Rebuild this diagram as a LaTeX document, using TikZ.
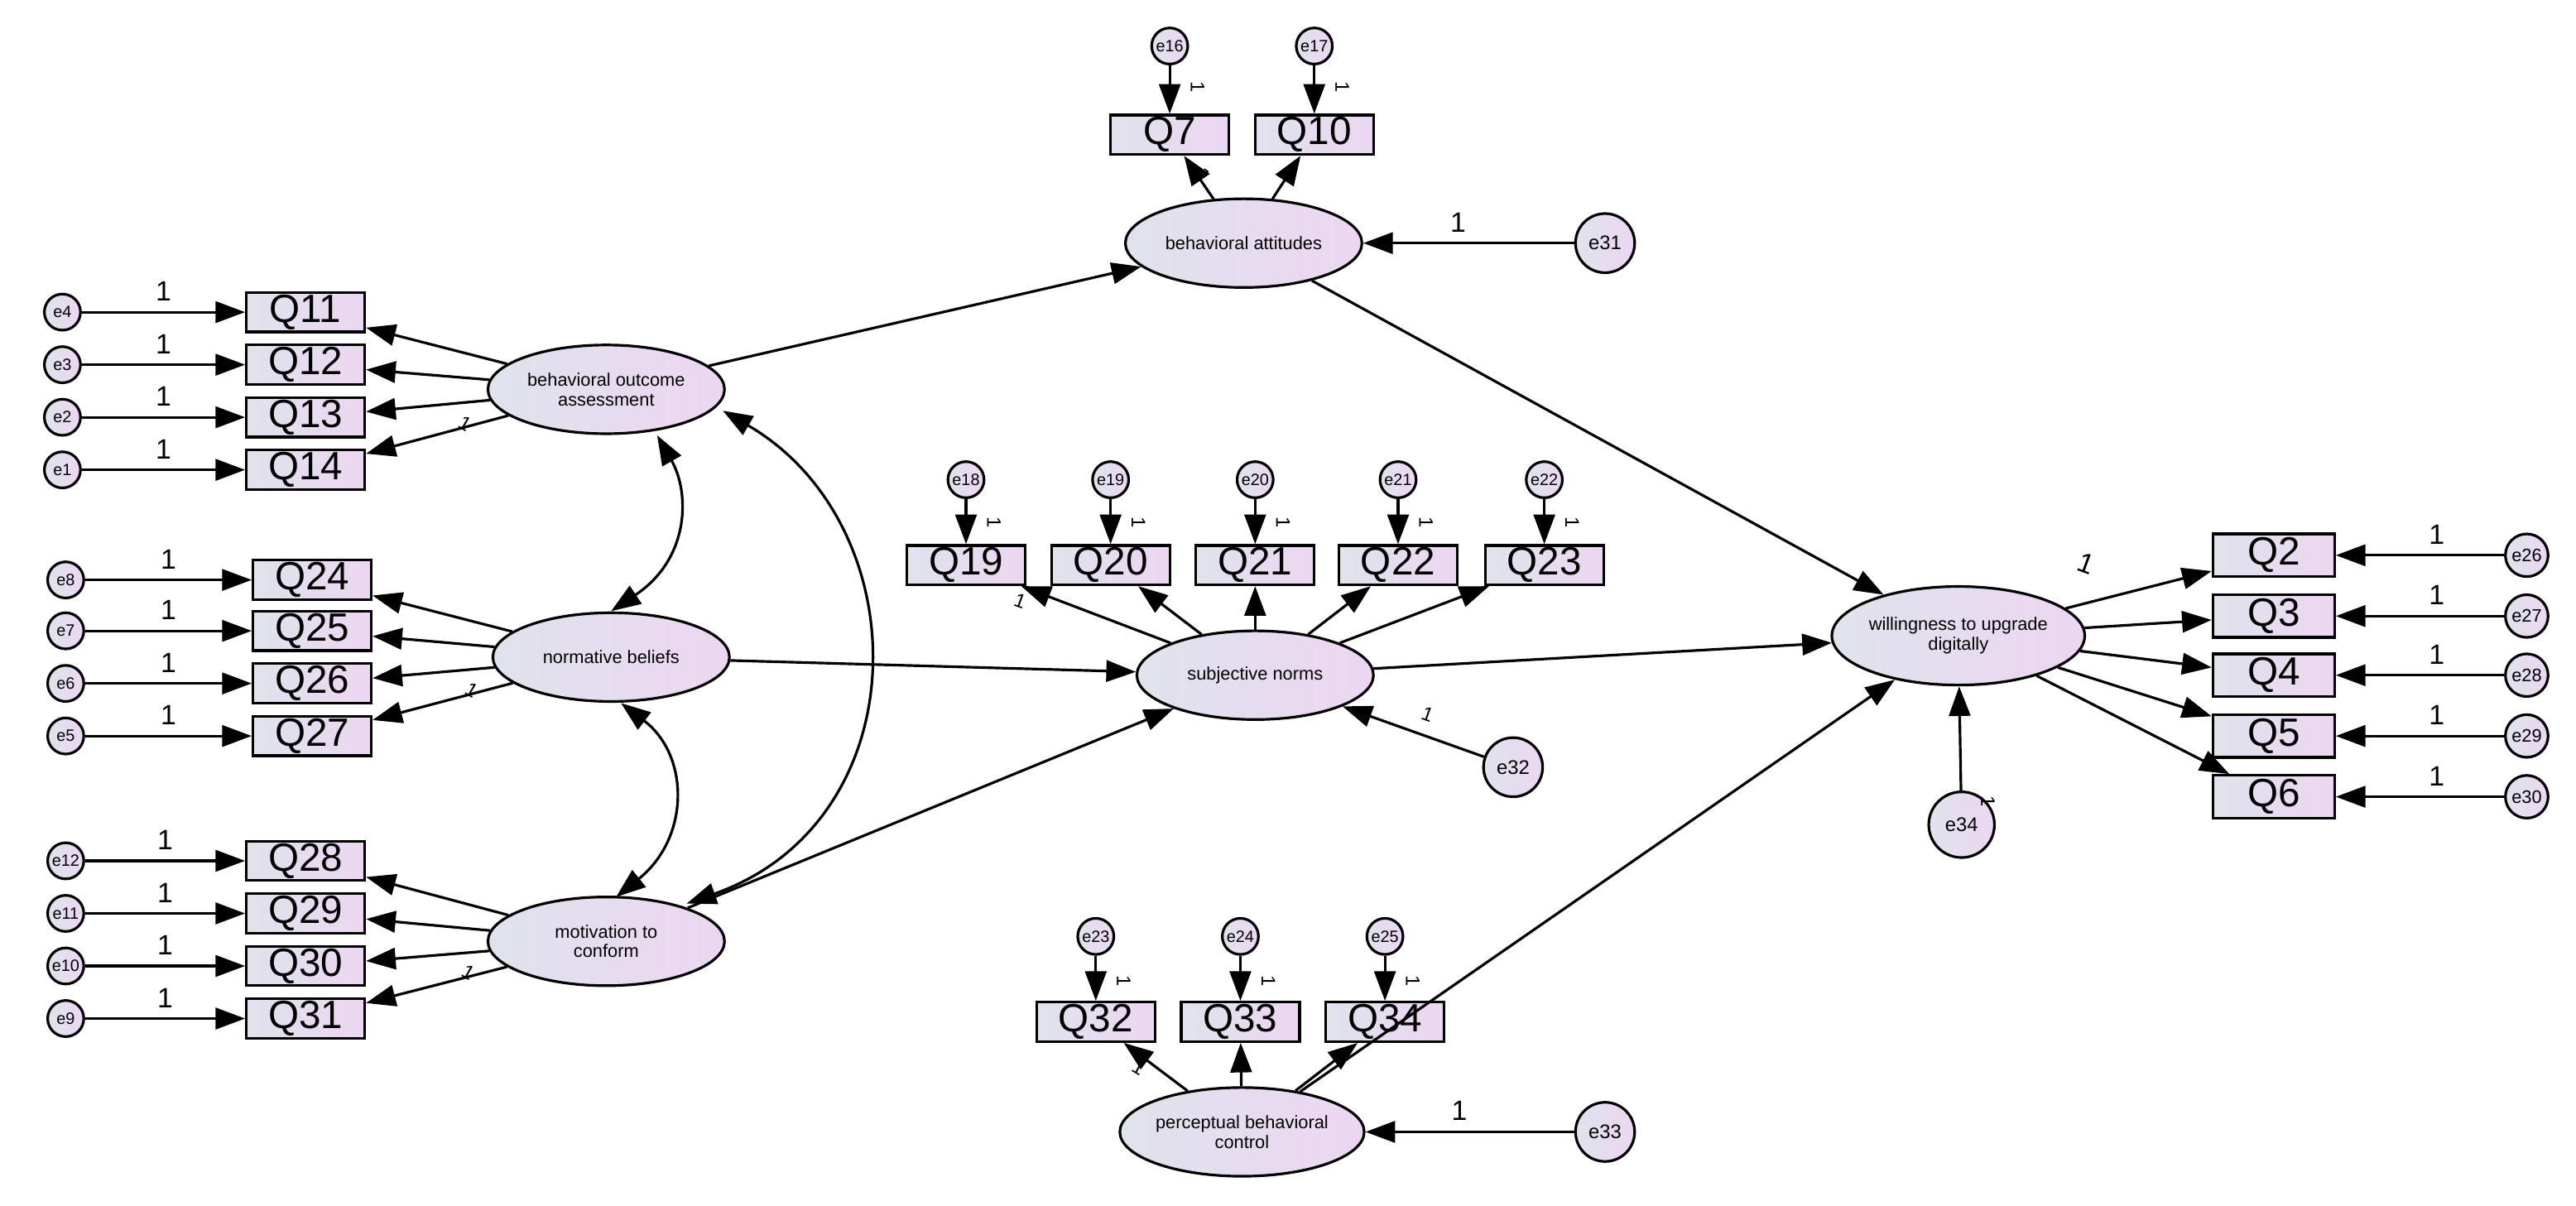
\documentclass[tikz,border=0pt]{standalone}
\usepackage{fontspec}
\setmainfont{Liberation Sans}
\usetikzlibrary{shapes.geometric,arrows.meta}
\definecolor{cl}{HTML}{DFE3EC}
\definecolor{cr}{HTML}{EDD6F2}
\tikzset{
 ob/.style={draw,line width=1.6pt,left color=cl,right color=cr,minimum width=72pt,minimum height=24pt,inner sep=0pt,font=\fontsize{24}{24}\selectfont},
 ob2/.style={ob,minimum width=74pt,minimum height=26pt},
 lat/.style={ellipse,draw,line width=1.6pt,left color=cl,right color=cr,minimum width=144pt,minimum height=54pt,inner sep=0pt,align=center,font=\fontsize{11}{12}\selectfont},
 er/.style={circle,draw,line width=1.6pt,left color=cl,right color=cr,minimum size=22pt,inner sep=0pt,font=\fontsize{10}{10}\selectfont},
 erb/.style={er,minimum size=36pt,font=\fontsize{12}{12}\selectfont},
 ar/.style={line width=1.6pt,-{Triangle[length=18pt,width=13pt]}},
 dar/.style={line width=1.6pt,{Triangle[length=18pt,width=13pt]}-{Triangle[length=18pt,width=13pt]}},
 one/.style={font=\fontsize{17}{17}\selectfont,inner sep=0pt},
 ro/.style={one,rotate=-90,font=\fontsize{12}{12}\selectfont},
}
\begin{document}
\begin{tikzpicture}[x=1pt,y=-1pt]
\useasboundingbox[fill=white] (0,0) rectangle (1568,734);
% left group 1
\node[lat] (boa) at (369,237) {behavioral outcome\\assessment};
\foreach \q/\e/\y in {Q11/e4/190,Q12/e3/222,Q13/e2/254,Q14/e1/286}{
 \node[ob] (\q) at (186,\y) {\q};
 \node[er] (\e) at (38,\y) {\e};
 \draw[ar] (\e) -- (\q) node[one,midway,above=6pt] {1};
 \draw[ar] (boa) -- (\q);
}
\node[lat] (nb) at (372,400) {normative beliefs};
\foreach \q/\e/\y in {Q24/e8/353,Q25/e7/384,Q26/e6/416,Q27/e5/448}{
 \node[ob] (\q) at (190,\y) {\q};
 \node[er] (\e) at (40,\y) {\e};
 \draw[ar] (\e) -- (\q) node[one,midway,above=6pt] {1};
 \draw[ar] (nb) -- (\q);
}
\node[lat] (mtc) at (369,573) {motivation to\\conform};
\foreach \q/\e/\y in {Q28/e12/524,Q29/e11/556,Q30/e10/588,Q31/e9/620}{
 \node[ob] (\q) at (186,\y) {\q};
 \node[er] (\e) at (40,\y) {\e};
 \draw[ar] (\e) -- (\q) node[one,midway,above=6pt] {1};
 \draw[ar] (mtc) -- (\q);
}
\node[ro,rotate=60] at (283,258) {1};
\node[ro,rotate=60] at (287,420) {1};
\node[ro,rotate=60] at (285,592) {1};
% correlations
\draw[dar] (400,265) .. controls (420,300) and (420,340) .. (372,372);
\draw[dar] (378,428) .. controls (420,460) and (420,510) .. (375,546);
\draw[dar] (440,250) .. controls (560,320) and (560,500) .. (418,550);
% behavioral attitudes
\node[lat] (ba) at (757,148) {behavioral attitudes};
\node[ob] (Q7) at (712,82) {Q7};
\node[ob] (Q10) at (800,82) {Q10};
\node[er] (e16) at (712,28) {e16};
\node[er] (e17) at (800,28) {e17};
\draw[ar] (e16) -- (Q7); \draw[ar] (e17) -- (Q10);
\draw[ar] (ba.north west|-ba.north) ++(-5,0) (ba) -- (Q7);
\draw[ar] (ba) -- (Q10);
\node[erb] (e31) at (977,148) {e31};
\draw[ar] (e31) -- (ba) node[one,pos=0.55,above=6pt] {1};
\node[ro] at (729,53) {1}; \node[ro] at (817,53) {1}; \node[ro,rotate=20] at (732,106) {1};
% subjective norms
\node[lat] (sn) at (764,411) {subjective norms};
\foreach \q/\e/\x in {Q19/e18/588,Q20/e19/676,Q21/e20/764,Q22/e21/851,Q23/e22/940}{
 \node[ob] (\q) at (\x,344) {\q};
 \node[er] (\e) at (\x,292) {\e};
 \draw[ar] (\e) -- (\q);
 \draw[ar] (sn) -- (\q);
 \node[ro] at (\x+17,318) {1};
}
\node[ro,rotate=70] at (621,366) {1};
\node[erb] (e32) at (921,467) {e32};
\draw[ar] (e32) -- (sn) node[ro,rotate=70,pos=0.45,above=8pt] {1};
% willingness
\node[lat,minimum width=150pt,minimum height=60pt] (wtu) at (1192,387) {willingness to upgrade\\digitally};
\foreach \q/\e/\y in {Q2/e26/338,Q3/e27/375,Q4/e28/411,Q5/e29/448,Q6/e30/485}{
 \node[ob2] (\q) at (1384,\y) {\q};
 \node[er,minimum size=26pt,font=\fontsize{11}{11}\selectfont] (\e) at (1538,\y) {\e};
 \draw[ar] (\e) -- (\q) node[one,pos=0.4,above=6pt] {1};
 \draw[ar] (wtu) -- (\q);
}
\node[one,rotate=-20] at (1270,343) {1};
\node[erb,minimum size=40pt] (e34) at (1194,502) {e34};
\draw[ar] (e34) -- (wtu);
\node[ro] at (1210,488) {1};
% perceptual
\node[lat] (pbc) at (756,689) {perceptual behavioral\\control};
\foreach \q/\e/\x in {Q32/e23/667,Q33/e24/755,Q34/e25/843}{
 \node[ob] (\q) at (\x,622) {\q};
 \node[er] (\e) at (\x,570) {\e};
 \draw[ar] (\e) -- (\q);
 \draw[ar] (pbc) -- (\q);
 \node[ro] at (\x+17,597) {1};
}
\node[ro,rotate=60] at (693,650) {1};
\node[erb] (e33) at (977,689) {e33};
\draw[ar] (e33) -- (pbc) node[one,pos=0.55,above=6pt] {1};
% structural
\draw[ar] (boa) -- (ba);
\draw[ar] (nb) -- (sn);
\draw[ar] (mtc) -- (sn);
\draw[ar] (ba) -- (wtu);
\draw[ar] (sn) -- (wtu);
\draw[ar] (pbc) -- (wtu);
\end{tikzpicture}
\end{document}
